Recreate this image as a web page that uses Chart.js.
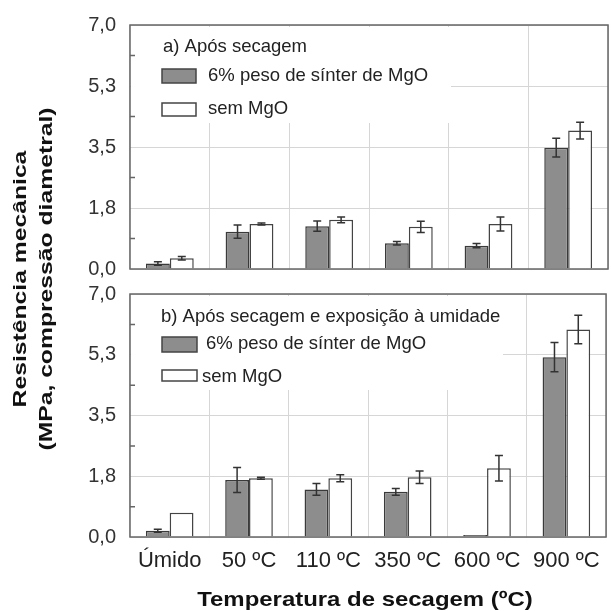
<!DOCTYPE html>
<html lang="pt">
<head>
<meta charset="utf-8">
<script src="https://cdn.jsdelivr.net/npm/chart.js"></script>
<style>
  body { margin: 0; background: #fff; }
  #wrap { position: relative; width: 611px; height: 611px; overflow: hidden; }
  #chartA { position: absolute; left: 0; top: 0; }
  #chartB { position: absolute; left: 0; top: 280px; }
  .title { position: absolute; text-align: center; color: #111; white-space: nowrap;
           font-family: "Liberation Sans", Arial, sans-serif; font-weight: bold; }
  #ytitle { left: -177px; top: 253px; width: 420px; height: 52px;
            font-size: 19px; line-height: 26px; transform: rotate(-90deg) scaleX(1.3); }
  #xtitle { left: 165px; top: 587px; width: 400px; height: 24px;
            font-size: 21px; line-height: 24px; transform: scaleX(1.14); }
</style>
</head>
<body>
<div id="wrap">
  <canvas id="chartA" width="611" height="280"></canvas>
  <canvas id="chartB" width="611" height="331"></canvas>
  <div id="ytitle" class="title">Resistência mecânica<br>(MPa, compressão diametral)</div>
  <div id="xtitle" class="title">Temperatura de secagem (ºC)</div>
</div>
<script>
const categories = ['Úmido', '50 ºC', '110 ºC', '350 ºC', '600 ºC', '900 ºC'];
const yTicks = [0, 1.75, 3.5, 5.25, 7];
const yTickLabels = ['0,0', '1,8', '3,5', '5,3', '7,0'];
const seriesNames = ['6% peso de sínter de MgO', 'sem MgO'];

// a) Após secagem
const secMgO      = [0.16, 1.07, 1.23, 0.74, 0.67, 3.48];
const secMgOErr   = [0.05, 0.19, 0.15, 0.05, 0.06, 0.27];
const secSem      = [0.31, 1.29, 1.41, 1.21, 1.29, 3.97];
const secSemErr   = [0.05, 0.03, 0.08, 0.16, 0.20, 0.24];

// b) Após secagem e exposição à umidade
const umiMgO      = [0.18, 1.64, 1.37, 1.30, 0.06, 5.18];
const umiMgOErr   = [0.04, 0.36, 0.17, 0.10, 0, 0.42];
const umiSem      = [0.70, 1.69, 1.69, 1.72, 1.98, 5.98];
const umiSemErr   = [0, 0.03, 0.10, 0.18, 0.37, 0.41];

const FONT = '"Liberation Sans", Arial, sans-serif';

const errorBars = {
  id: 'errorBars',
  afterDatasetsDraw(chart) {
    const ctx = chart.ctx, ys = chart.scales.y;
    ctx.save();
    ctx.strokeStyle = '#333';
    ctx.lineWidth = 1.5;
    chart.data.datasets.forEach((ds, i) => {
      chart.getDatasetMeta(i).data.forEach((bar, j) => {
        const e = ds.errors[j];
        if (!e) return;
        const v = ds.data[j];
        const y1 = ys.getPixelForValue(v - e), y2 = ys.getPixelForValue(v + e);
        ctx.beginPath();
        ctx.moveTo(bar.x, y1); ctx.lineTo(bar.x, y2);
        ctx.moveTo(bar.x - 4, y1); ctx.lineTo(bar.x + 4, y1);
        ctx.moveTo(bar.x - 4, y2); ctx.lineTo(bar.x + 4, y2);
        ctx.stroke();
      });
    });
    ctx.restore();
  }
};

// legend drawn inside the plot, on a white patch that hides the grid
const panelLegend = {
  id: 'panelLegend',
  beforeDatasetsDraw(chart, args, opts) {
    const ctx = chart.ctx;
    ctx.save();
    ctx.fillStyle = '#fff';
    ctx.fillRect(opts.cover[0], opts.cover[1], opts.cover[2], opts.cover[3]);
    ctx.font = '18.5px ' + FONT;
    ctx.fillStyle = '#222';
    ctx.textBaseline = 'middle';
    ctx.fillText(opts.title, opts.titleX, opts.titleY);
    opts.entries.forEach((en, i) => {
      const ds = chart.data.datasets[i];
      ctx.fillStyle = ds.backgroundColor;
      ctx.fillRect(en.x, en.y, en.w, en.h);
      ctx.strokeStyle = '#444';
      ctx.lineWidth = 1.5;
      ctx.strokeRect(en.x, en.y, en.w, en.h);
      ctx.fillStyle = '#222';
      ctx.fillText(ds.label, en.tx, en.ty);
    });
    ctx.restore();
  }
};

const frame = {
  id: 'frame',
  afterDraw(chart) {
    const ctx = chart.ctx, a = chart.chartArea, ys = chart.scales.y;
    ctx.save();
    ctx.strokeStyle = '#666';
    ctx.lineWidth = 1.5;
    ctx.strokeRect(a.left, a.top, a.right - a.left, a.bottom - a.top);
    ctx.beginPath();
    for (let i = 0; i < yTicks.length - 1; i++) {
      const py = ys.getPixelForValue((yTicks[i] + yTicks[i + 1]) / 2);
      ctx.moveTo(a.left, py); ctx.lineTo(a.left + 5, py);
    }
    ctx.stroke();
    ctx.restore();
  }
};

function makeChart(id, mgo, mgoErr, sem, semErr, legendOpts, showX, pad, xHeight) {
  return new Chart(document.getElementById(id), {
    type: 'bar',
    data: {
      labels: categories,
      datasets: [
        { label: seriesNames[0], data: mgo, errors: mgoErr, backgroundColor: '#8d8d8d',
          borderColor: '#3a3a3a', borderWidth: 1.5, categoryPercentage: 0.6, barPercentage: 1 },
        { label: seriesNames[1], data: sem, errors: semErr, backgroundColor: '#ffffff',
          borderColor: '#444', borderWidth: 1.5, categoryPercentage: 0.6, barPercentage: 1 }
      ]
    },
    options: {
      responsive: false,
      animation: false,
      layout: { padding: pad },
      plugins: {
        legend: { display: false },
        tooltip: { enabled: false },
        panelLegend: legendOpts
      },
      scales: {
        x: {
          grid: { color: '#d6d6d6', offset: true, drawTicks: false },
          border: { display: false },
          ticks: { display: showX, color: '#222', font: { family: FONT, size: 22 }, padding: 11 },
          afterFit: s => { s.height = xHeight; }
        },
        y: {
          min: 0, max: 7,
          afterBuildTicks: s => { s.ticks = yTicks.map(v => ({ value: v })); },
          ticks: { callback: (v, i) => yTickLabels[i], color: '#333',
                   font: { family: FONT, size: 20, lineHeight: 1.1 }, padding: 0 },
          grid: { color: '#d6d6d6', drawTicks: true, tickLength: 14, tickColor: 'rgba(0,0,0,0)' },
          border: { display: false },
          afterFit: s => { s.width = 130; }
        }
      }
    },
    plugins: [panelLegend, errorBars, frame]
  });
}

makeChart('chartA', secMgO, secMgOErr, secSem, secSemErr, {
  title: 'a) Após secagem', titleX: 163, titleY: 47,
  cover: [131, 27, 320, 96],
  entries: [
    { x: 162, y: 69, w: 34, h: 14, tx: 208, ty: 76 },
    { x: 162, y: 103, w: 34, h: 13, tx: 208, ty: 109 }
  ]
}, false, { top: 25, right: 3, left: 0, bottom: 0 }, 11);

makeChart('chartB', umiMgO, umiMgOErr, umiSem, umiSemErr, {
  title: 'b) Após secagem e exposição à umidade', titleX: 161, titleY: 37,
  cover: [131, 16, 372, 94],
  entries: [
    { x: 162, y: 57, w: 35, h: 15, tx: 206, ty: 64 },
    { x: 162, y: 90, w: 35, h: 11, tx: 202, ty: 97 }
  ]
}, true, { top: 14, right: 3, left: 0, bottom: 0 }, 74);
</script>
</body>
</html>
